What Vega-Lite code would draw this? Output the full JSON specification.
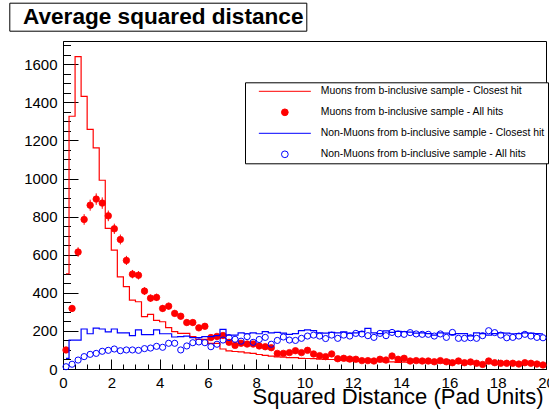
{
  "$schema": "https://vega.github.io/schema/vega-lite/v6.json",
  "width": 483,
  "height": 328,
  "autosize": {"type": "none"},
  "padding": {"left": 63, "top": 41, "right": 3, "bottom": 42},
  "background": "white",
  "config": {
    "view": {"stroke": "black", "strokeWidth": 1},
    "font": "Liberation Sans",
    "axis": {"labelFont": "Liberation Sans", "titleFont": "Liberation Sans", "labelColor": "black", "titleColor": "black", "domainColor": "black", "tickColor": "black", "grid": false},
    "legend": {"labelFont": "Liberation Sans", "labelColor": "black"}
  },
  "datasets": {
    "mu_closest": [
      {"d":0.125,"n":500},{"d":0.375,"n":1327},{"d":0.625,"n":1640},{"d":0.875,"n":1431},{"d":1.125,"n":1258},{"d":1.375,"n":1161},{"d":1.625,"n":991},{"d":1.875,"n":738},
      {"d":2.125,"n":624},{"d":2.375,"n":484},{"d":2.625,"n":432},{"d":2.875,"n":362},{"d":3.125,"n":353},{"d":3.375,"n":275},{"d":3.625,"n":287},{"d":3.875,"n":255},
      {"d":4.125,"n":248},{"d":4.375,"n":217},{"d":4.625,"n":196},{"d":4.875,"n":187},{"d":5.125,"n":187},{"d":5.375,"n":170},{"d":5.625,"n":156},{"d":5.875,"n":156},
      {"d":6.125,"n":135},{"d":6.375,"n":135},{"d":6.625,"n":105},{"d":6.875,"n":95},{"d":7.125,"n":92},{"d":7.375,"n":90},{"d":7.625,"n":85},{"d":7.875,"n":82},
      {"d":8.125,"n":76},{"d":8.375,"n":72},{"d":8.625,"n":68},{"d":8.875,"n":64},{"d":9.125,"n":62},{"d":9.375,"n":60},{"d":9.625,"n":60},{"d":9.875,"n":56},
      {"d":10.125,"n":55},{"d":10.375,"n":54},{"d":10.625,"n":52},{"d":10.875,"n":50},{"d":11.125,"n":50},{"d":11.375,"n":48},{"d":11.625,"n":45},{"d":11.875,"n":43},
      {"d":12.125,"n":42},{"d":12.375,"n":40},{"d":12.625,"n":40},{"d":12.875,"n":38},{"d":13.125,"n":38},{"d":13.375,"n":37},{"d":13.625,"n":37},{"d":13.875,"n":35},
      {"d":14.125,"n":36},{"d":14.375,"n":34},{"d":14.625,"n":34},{"d":14.875,"n":33},{"d":15.125,"n":33},{"d":15.375,"n":32},{"d":15.625,"n":32},{"d":15.875,"n":31},
      {"d":16.125,"n":30},{"d":16.375,"n":30},{"d":16.625,"n":30},{"d":16.875,"n":29},{"d":17.125,"n":28},{"d":17.375,"n":28},{"d":17.625,"n":28},{"d":17.875,"n":27},
      {"d":18.125,"n":27},{"d":18.375,"n":26},{"d":18.625,"n":26},{"d":18.875,"n":25},{"d":19.125,"n":25},{"d":19.375,"n":24},{"d":19.625,"n":24},{"d":19.875,"n":23}
    ],
    "mu_all": [
      {"d":0.125,"n":100,"e":10},{"d":0.375,"n":318,"e":18},{"d":0.625,"n":614,"e":25},{"d":0.875,"n":785,"e":28},{"d":1.125,"n":860,"e":29},{"d":1.375,"n":892,"e":30},{"d":1.625,"n":871,"e":30},{"d":1.875,"n":804,"e":28},
      {"d":2.125,"n":736,"e":27},{"d":2.375,"n":680,"e":26},{"d":2.625,"n":570,"e":24},{"d":2.875,"n":498,"e":22},{"d":3.125,"n":492,"e":22},{"d":3.375,"n":409,"e":20},{"d":3.625,"n":372,"e":19},{"d":3.875,"n":376,"e":19},
      {"d":4.125,"n":318,"e":18},{"d":4.375,"n":330,"e":18},{"d":4.625,"n":292,"e":17},{"d":4.875,"n":277,"e":17},{"d":5.125,"n":244,"e":16},{"d":5.375,"n":244,"e":16},{"d":5.625,"n":216,"e":15},{"d":5.875,"n":224,"e":15},
      {"d":6.125,"n":165,"e":13},{"d":6.375,"n":171,"e":13},{"d":6.625,"n":176,"e":13},{"d":6.875,"n":140,"e":12},{"d":7.125,"n":124,"e":11},{"d":7.375,"n":135,"e":12},{"d":7.625,"n":131,"e":11},{"d":7.875,"n":131,"e":11},
      {"d":8.125,"n":121,"e":11},{"d":8.375,"n":117,"e":11},{"d":8.625,"n":112,"e":11},{"d":8.875,"n":82,"e":9},{"d":9.125,"n":82,"e":9},{"d":9.375,"n":86,"e":9},{"d":9.625,"n":96,"e":10},{"d":9.875,"n":86,"e":9},
      {"d":10.125,"n":98,"e":10},{"d":10.375,"n":79,"e":9},{"d":10.625,"n":70,"e":8},{"d":10.875,"n":65,"e":8},{"d":11.125,"n":79,"e":9},{"d":11.375,"n":54,"e":7},{"d":11.625,"n":56,"e":7},{"d":11.875,"n":52,"e":7},
      {"d":12.125,"n":51,"e":7},{"d":12.375,"n":44,"e":7},{"d":12.625,"n":44,"e":7},{"d":12.875,"n":42,"e":6},{"d":13.125,"n":51,"e":7},{"d":13.375,"n":47,"e":7},{"d":13.625,"n":68,"e":8},{"d":13.875,"n":51,"e":7},
      {"d":14.125,"n":56,"e":7},{"d":14.375,"n":42,"e":6},{"d":14.625,"n":44,"e":7},{"d":14.875,"n":42,"e":6},{"d":15.125,"n":42,"e":6},{"d":15.375,"n":38,"e":6},{"d":15.625,"n":44,"e":7},{"d":15.875,"n":38,"e":6},
      {"d":16.125,"n":33,"e":6},{"d":16.375,"n":42,"e":6},{"d":16.625,"n":33,"e":6},{"d":16.875,"n":37,"e":6},{"d":17.125,"n":30,"e":5},{"d":17.375,"n":24,"e":5},{"d":17.625,"n":42,"e":6},{"d":17.875,"n":33,"e":6},
      {"d":18.125,"n":30,"e":5},{"d":18.375,"n":30,"e":5},{"d":18.625,"n":30,"e":5},{"d":18.875,"n":26,"e":5},{"d":19.125,"n":33,"e":6},{"d":19.375,"n":30,"e":5},{"d":19.625,"n":26,"e":5},{"d":19.875,"n":21,"e":5}
    ],
    "nonmu_closest": [
      {"d":0.125,"n":56},{"d":0.375,"n":152},{"d":0.625,"n":152},{"d":0.875,"n":210},{"d":1.125,"n":185},{"d":1.375,"n":215},{"d":1.625,"n":210},{"d":1.875,"n":195},
      {"d":2.125,"n":210},{"d":2.375,"n":190},{"d":2.625,"n":190},{"d":2.875,"n":175},{"d":3.125,"n":205},{"d":3.375,"n":180},{"d":3.625,"n":180},{"d":3.875,"n":205},
      {"d":4.125,"n":185},{"d":4.375,"n":185},{"d":4.625,"n":168},{"d":4.875,"n":170},{"d":5.125,"n":173},{"d":5.375,"n":165},{"d":5.625,"n":165},{"d":5.875,"n":170},
      {"d":6.125,"n":170},{"d":6.375,"n":175},{"d":6.625,"n":208},{"d":6.875,"n":178},{"d":7.125,"n":178},{"d":7.375,"n":190},{"d":7.625,"n":185},{"d":7.875,"n":190},
      {"d":8.125,"n":185},{"d":8.375,"n":196},{"d":8.625,"n":190},{"d":8.875,"n":192},{"d":9.125,"n":188},{"d":9.375,"n":182},{"d":9.625,"n":186},{"d":9.875,"n":201},
      {"d":10.125,"n":205},{"d":10.375,"n":201},{"d":10.625,"n":190},{"d":10.875,"n":188},{"d":11.125,"n":192},{"d":11.375,"n":190},{"d":11.625,"n":195},{"d":11.875,"n":188},
      {"d":12.125,"n":190},{"d":12.375,"n":196},{"d":12.625,"n":213},{"d":12.875,"n":190},{"d":13.125,"n":186},{"d":13.375,"n":200},{"d":13.625,"n":192},{"d":13.875,"n":198},
      {"d":14.125,"n":196},{"d":14.375,"n":194},{"d":14.625,"n":188},{"d":14.875,"n":190},{"d":15.125,"n":186},{"d":15.375,"n":178},{"d":15.625,"n":190},{"d":15.875,"n":188},
      {"d":16.125,"n":180},{"d":16.375,"n":186},{"d":16.625,"n":186},{"d":16.875,"n":174},{"d":17.125,"n":190},{"d":17.375,"n":186},{"d":17.625,"n":178},{"d":17.875,"n":186},
      {"d":18.125,"n":190},{"d":18.375,"n":188},{"d":18.625,"n":185},{"d":18.875,"n":186},{"d":19.125,"n":190},{"d":19.375,"n":188},{"d":19.625,"n":186},{"d":19.875,"n":184}
    ],
    "nonmu_all": [
      {"d":0.125,"n":12},{"d":0.375,"n":25},{"d":0.625,"n":47},{"d":0.875,"n":65},{"d":1.125,"n":77},{"d":1.375,"n":82},{"d":1.625,"n":93},{"d":1.875,"n":98},
      {"d":2.125,"n":105},{"d":2.375,"n":96},{"d":2.625,"n":100},{"d":2.875,"n":100},{"d":3.125,"n":98},{"d":3.375,"n":107},{"d":3.625,"n":110},{"d":3.875,"n":119},
      {"d":4.125,"n":114},{"d":4.375,"n":135},{"d":4.625,"n":135},{"d":4.875,"n":100},{"d":5.125,"n":121},{"d":5.375,"n":138},{"d":5.625,"n":142},{"d":5.875,"n":138},
      {"d":6.125,"n":117},{"d":6.375,"n":130},{"d":6.625,"n":152},{"d":6.875,"n":165},{"d":7.125,"n":156},{"d":7.375,"n":146},{"d":7.625,"n":170},{"d":7.875,"n":140},
      {"d":8.125,"n":155},{"d":8.375,"n":166},{"d":8.625,"n":130},{"d":8.875,"n":150},{"d":9.125,"n":168},{"d":9.375,"n":152},{"d":9.625,"n":150},{"d":9.875,"n":161},
      {"d":10.125,"n":173},{"d":10.375,"n":178},{"d":10.625,"n":173},{"d":10.875,"n":160},{"d":11.125,"n":178},{"d":11.375,"n":161},{"d":11.625,"n":178},{"d":11.875,"n":173},
      {"d":12.125,"n":187},{"d":12.375,"n":184},{"d":12.625,"n":175},{"d":12.875,"n":166},{"d":13.125,"n":187},{"d":13.375,"n":175},{"d":13.625,"n":192},{"d":13.875,"n":184},
      {"d":14.125,"n":182},{"d":14.375,"n":191},{"d":14.625,"n":184},{"d":14.875,"n":182},{"d":15.125,"n":182},{"d":15.375,"n":173},{"d":15.625,"n":184},{"d":15.875,"n":166},
      {"d":16.125,"n":192},{"d":16.375,"n":161},{"d":16.625,"n":161},{"d":16.875,"n":164},{"d":17.125,"n":161},{"d":17.375,"n":175},{"d":17.625,"n":201},{"d":17.875,"n":191},
      {"d":18.125,"n":178},{"d":18.375,"n":164},{"d":18.625,"n":166},{"d":18.875,"n":173},{"d":19.125,"n":182},{"d":19.375,"n":173},{"d":19.625,"n":166},{"d":19.875,"n":164}
    ]
  },
  "encoding": {
    "x": {
      "field": "d", "type": "quantitative",
      "scale": {"domain": [0, 20], "nice": false, "zero": false},
      "axis": {
        "orient": "bottom",
        "values": [0,0.5,1,1.5,2,2.5,3,3.5,4,4.5,5,5.5,6,6.5,7,7.5,8,8.5,9,9.5,10,10.5,11,11.5,12,12.5,13,13.5,14,14.5,15,15.5,16,16.5,17,17.5,18,18.5,19,19.5,20],
        "labelExpr": "datum.value % 2 === 0 ? format(datum.value, 'd') : ''",
        "tickSize": {"condition": {"test": "datum.value % 2 === 0", "value": -10}, "value": -5},
        "labelPadding": 16,
        "labelFontSize": 15,
        "labelFlush": false,
        "labelOverlap": false,
        "labelBound": false,
        "domainWidth": 1,
        "tickWidth": 1,
        "title": "Squared Distance (Pad Units)",
        "titleFontSize": 22,
        "titleFontWeight": "normal",
        "titleAlign": "right",
        "titleAnchor": "end",
        "titleBaseline": "alphabetic",
        "titleX": 480,
        "titleY": 34
      }
    },
    "y": {
      "field": "n", "type": "quantitative",
      "scale": {"domain": [0, 1722], "nice": false, "zero": true},
      "axis": {
        "values": [0,50,100,150,200,250,300,350,400,450,500,550,600,650,700,750,800,850,900,950,1000,1050,1100,1150,1200,1250,1300,1350,1400,1450,1500,1550,1600,1650,1700],
        "labelExpr": "datum.value % 200 === 0 ? format(datum.value, 'd') : ''",
        "tickSize": {"condition": {"test": "datum.value % 200 === 0", "value": -15}, "value": -7.5},
        "labelPadding": 21,
        "labelFontSize": 15,
        "labelFlush": false,
        "labelOverlap": false,
        "labelBound": false,
        "domainWidth": 1,
        "tickWidth": 1,
        "title": null
      }
    }
  },
  "layer": [
    {
      "data": {"name": "mu_closest"},
      "mark": {"type": "line", "interpolate": "step", "strokeWidth": 1.2, "clip": true},
      "encoding": {
        "stroke": {
          "datum": "Muons from b-inclusive sample - Closest hit", "type": "nominal",
          "scale": {"domain": ["Muons from b-inclusive sample - Closest hit", "Muons from b-inclusive sample - All hits", "Non-Muons from b-inclusive sample - Closest hit", "Non-Muons from b-inclusive sample - All hits"], "range": ["#ff0000", "#ff0000", "#0000ff", "#0000ff"]},
          "legend": {
            "orient": "none", "legendX": 182, "legendY": 41.3, "title": null, "direction": "vertical",
            "strokeColor": "black", "fillColor": "white", "padding": 3,
            "symbolSize": 45, "symbolOffset": 31.65, "labelOffset": 30.7, "clipHeight": 12, "rowPadding": 9,
            "labelFont": "Liberation Sans", "labelFontSize": 10.4, "labelColor": "black", "labelLimit": 400,
            "symbolStrokeWidth": 1, "symbolOpacity": 1,
            "encoding": {"symbols": {"update": {
              "fill": {"scale": "fill", "field": "value"},
              "stroke": {"scale": "stroke", "field": "value"},
              "shape": {"scale": "shape", "field": "value"},
              "opacity": {"value": 1},
              "strokeWidth": {"value": 1}
            }}}
          }
        },
        "strokeDash": {
          "datum": "Average squared distance\u00a0\u00a0", "type": "nominal",
          "scale": {"range": [[1, 0]]},
          "legend": {
            "orient": "none", "legendX": -53.7, "legendY": -38.3, "title": null,
            "strokeColor": "black", "fillColor": "white", "padding": 2,
            "symbolSize": 0, "symbolOpacity": 0, "symbolStrokeWidth": 0,
            "labelOffset": -10.9, "clipHeight": 24,
            "labelFont": "Liberation Sans", "labelFontSize": 22.6, "labelFontWeight": "bold", "labelColor": "black", "labelLimit": 500,
            "encoding": {"symbols": {"update": {"opacity": {"value": 0}}}}
          }
        }
      }
    },
    {
      "data": {"name": "mu_all"},
      "mark": {"type": "errorbar", "color": "#ff0000", "thickness": 1},
      "encoding": {"yError": {"field": "e"}}
    },
    {
      "data": {"name": "mu_all"},
      "mark": {"type": "point", "filled": true, "size": 42, "opacity": 1, "strokeWidth": 0.8},
      "encoding": {
        "stroke": {"datum": "Muons from b-inclusive sample - All hits", "type": "nominal",
          "scale": {"domain": ["Muons from b-inclusive sample - Closest hit", "Muons from b-inclusive sample - All hits", "Non-Muons from b-inclusive sample - Closest hit", "Non-Muons from b-inclusive sample - All hits"], "range": ["#ff0000", "#ff0000", "#0000ff", "#0000ff"]}},
        "fill": {"datum": "Muons from b-inclusive sample - All hits", "type": "nominal",
          "scale": {"domain": ["Muons from b-inclusive sample - Closest hit", "Muons from b-inclusive sample - All hits", "Non-Muons from b-inclusive sample - Closest hit", "Non-Muons from b-inclusive sample - All hits"], "range": ["transparent", "#ff0000", "transparent", "transparent"]}},
        "shape": {"datum": "Muons from b-inclusive sample - All hits", "type": "nominal",
          "scale": {"domain": ["Muons from b-inclusive sample - Closest hit", "Muons from b-inclusive sample - All hits", "Non-Muons from b-inclusive sample - Closest hit", "Non-Muons from b-inclusive sample - All hits"], "range": ["M-7.75,0H7.75", "circle", "M-7.75,0H7.75", "circle"]}}
      }
    },
    {
      "data": {"name": "nonmu_closest"},
      "mark": {"type": "line", "interpolate": "step", "strokeWidth": 1.2, "clip": true},
      "encoding": {
        "stroke": {"datum": "Non-Muons from b-inclusive sample - Closest hit", "type": "nominal",
          "scale": {"domain": ["Muons from b-inclusive sample - Closest hit", "Muons from b-inclusive sample - All hits", "Non-Muons from b-inclusive sample - Closest hit", "Non-Muons from b-inclusive sample - All hits"], "range": ["#ff0000", "#ff0000", "#0000ff", "#0000ff"]}}
      }
    },
    {
      "data": {"name": "nonmu_all"},
      "mark": {"type": "point", "filled": true, "size": 38, "opacity": 1, "strokeWidth": 1},
      "encoding": {
        "stroke": {"datum": "Non-Muons from b-inclusive sample - All hits", "type": "nominal",
          "scale": {"domain": ["Muons from b-inclusive sample - Closest hit", "Muons from b-inclusive sample - All hits", "Non-Muons from b-inclusive sample - Closest hit", "Non-Muons from b-inclusive sample - All hits"], "range": ["#ff0000", "#ff0000", "#0000ff", "#0000ff"]}},
        "fill": {"datum": "Non-Muons from b-inclusive sample - All hits", "type": "nominal",
          "scale": {"domain": ["Muons from b-inclusive sample - Closest hit", "Muons from b-inclusive sample - All hits", "Non-Muons from b-inclusive sample - Closest hit", "Non-Muons from b-inclusive sample - All hits"], "range": ["transparent", "#ff0000", "transparent", "transparent"]}},
        "shape": {"datum": "Non-Muons from b-inclusive sample - All hits", "type": "nominal",
          "scale": {"domain": ["Muons from b-inclusive sample - Closest hit", "Muons from b-inclusive sample - All hits", "Non-Muons from b-inclusive sample - Closest hit", "Non-Muons from b-inclusive sample - All hits"], "range": ["M-7.75,0H7.75", "circle", "M-7.75,0H7.75", "circle"]}}
      }
    }
  ]
}
